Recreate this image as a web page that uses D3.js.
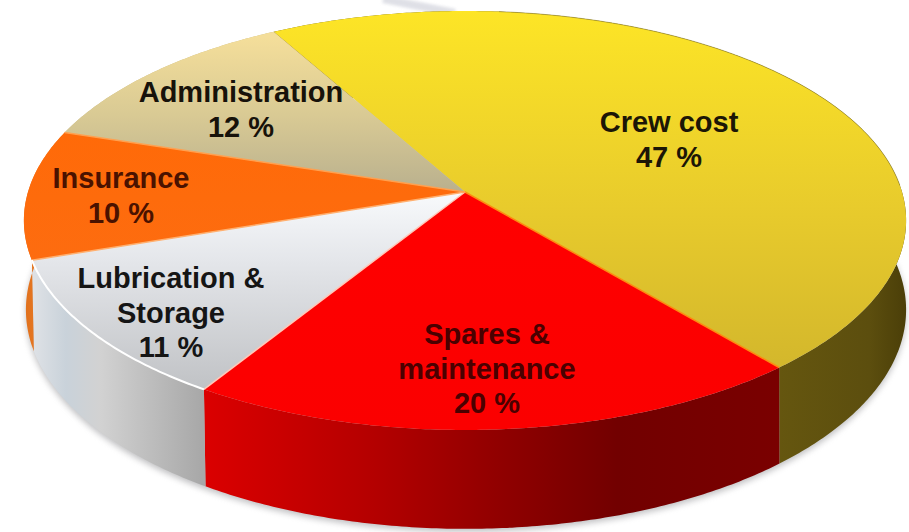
<!DOCTYPE html>
<html>
<head>
<meta charset="utf-8">
<script src="https://cdn.jsdelivr.net/npm/d3@7"></script>
<style>
  html, body { margin: 0; padding: 0; background: #fff; }
  svg { display: block; }
  text { font-family: "Liberation Sans", Arial, sans-serif; font-weight: 700; font-size: 29px; text-anchor: middle; }
</style>
</head>
<body>
<div id="chart"></div>
<script>
// Ship operating cost breakdown, drawn as a tilted 3D pie.
const categories = ["Crew cost", "Spares & maintenance", "Lubrication & Storage", "Insurance", "Administration"];
const shares = [47, 20, 11, 10, 12];
const labelLines = [
  ["Crew cost"],
  ["Spares &", "maintenance"],
  ["Lubrication &", "Storage"],
  ["Insurance"],
  ["Administration"]
];

// Layout and styling
const width = 909, height = 532;
const firstAngleDeg = -29.3;
const tilt = -0.136;              // perspective strength: the near edge looks larger
const topPlane  = { cx: 465, cy: 192, a: 437, b: 205.6 };
const basePlane = { cx: 466, cy: 280, a: 436, b: 215 };
const labelAnchors = [
  [669, 132], [487, 344], [171, 288], [121, 188], [241, 102]
];
const lineGap = 34.5;
const labelInk = ["#1c1606", "#4a0000", "#151515", "#4a1200", "#17120a"];

const topFills = [
  { dir: "v", from: 11, to: 369, stops: [[0, "#fde526"], [0.55, "#e8cb2c"], [1, "#d3b72c"]] },
  { dir: "v", from: 190, to: 430, stops: [[0, "#ff0000"], [1, "#fb0000"]] },
  { dir: "v", from: 192, to: 390, stops: [[0, "#f8fafc"], [0.35, "#e4e6ea"], [1, "#c0c2c5"]] },
  { dir: "v", from: 133, to: 262, stops: [[0, "#ff6a08"], [1, "#fd6c10"]] },
  { dir: "v", from: 37, to: 192, stops: [[0, "#f4de9a"], [0.5, "#d9ca94"], [1, "#b9b08e"]] }
];
const wallFills = [
  { dir: "h", from: 780, to: 908, stops: [[0, "#65560f"], [0.7, "#5c4e0e"], [1, "#4a3e08"]] },
  { dir: "h", from: 200, to: 780, stops: [[0, "#dc0000"], [0.3, "#b40000"], [0.5, "#930000"], [0.72, "#720000"], [1, "#7a0000"]] },
  { dir: "h", from: 32, to: 202, stops: [[0, "#dfe2e6"], [0.2, "#c9d2da"], [0.4, "#d2d2d2"], [1, "#a8a8a8"]] },
  { dir: "h", from: 25, to: 40, stops: [[0, "#e0701c"], [1, "#e87a24"]] },
  { dir: "h", from: 25, to: 40, stops: [[0, "#c8b880"], [1, "#c8b880"]] }
];

const svg = d3.select("#chart").append("svg").attr("width", width).attr("height", height);
const defs = svg.append("defs");

function addGradient(id, spec) {
  const g = defs.append("linearGradient").attr("id", id).attr("gradientUnits", "userSpaceOnUse");
  if (spec.dir === "v") g.attr("x1", 0).attr("x2", 0).attr("y1", spec.from).attr("y2", spec.to);
  else g.attr("y1", 0).attr("y2", 0).attr("x1", spec.from).attr("x2", spec.to);
  spec.stops.forEach(([o, c]) => g.append("stop").attr("offset", o).attr("stop-color", c));
}
topFills.forEach((s, i) => addGradient("top" + i, s));
wallFills.forEach((s, i) => addGradient("wall" + i, s));
defs.append("filter").attr("id", "soft").attr("x", "-10%").attr("y", "-10%").attr("width", "120%").attr("height", "120%")
  .append("feGaussianBlur").attr("stdDeviation", 3);
defs.append("filter").attr("id", "streak").attr("x", "-20%").attr("y", "-200%").attr("width", "140%").attr("height", "500%")
  .append("feGaussianBlur").attr("stdDeviation", 1.5);

// Angles come from the data; the first slice starts a little left of twelve o'clock.
const start = firstAngleDeg * Math.PI / 180;
const arcs = d3.pie().sort(null).value(d => d).startAngle(start).endAngle(start + 2 * Math.PI)(shares);

// Perspective projection of a point on the unit disc onto a horizontal plane of the pie.
function planeScales(p) {
  return {
    x: d3.scaleLinear().domain([-1, 1]).range([p.cx - p.a, p.cx + p.a]),
    y: d3.scaleLinear().domain([-1, 1]).range([p.cy - p.b, p.cy + p.b])
  };
}
const topScale = planeScales(topPlane), baseScale = planeScales(basePlane);
function project(angle, r, s) {
  const X = r * Math.sin(angle), Y = -r * Math.cos(angle), w = 1 + tilt * Y;
  return [s.x(X / w), s.y(Y / w)];
}
function rimAngles(a0, a1) {
  const n = Math.max(2, Math.ceil((a1 - a0) / 0.01));
  return d3.range(n + 1).map(i => a0 + (a1 - a0) * i / n);
}
const line = d3.line();

// Soft ground shadow and the faint grey streak behind the far rim
const basePts = rimAngles(0, 2 * Math.PI).map(t => project(t, 1, baseScale));
svg.append("path").attr("d", line(basePts) + "Z")
  .attr("transform", "translate(0,3)")
  .attr("fill", "#8c8c90").attr("opacity", 0.55).attr("filter", "url(#soft)");
svg.append("path").attr("d", "M383,-1 L455,13")
  .attr("fill", "none").attr("stroke", "#dcdde4").attr("stroke-width", 8).attr("opacity", 0.9).attr("filter", "url(#streak)");

// Side walls
svg.append("g").selectAll("path").data(arcs).join("path")
  .attr("d", d => {
    const t = rimAngles(d.startAngle, d.endAngle);
    return line(t.map(a => project(a, 1, topScale)).concat(t.slice().reverse().map(a => project(a, 1, baseScale)))) + "Z";
  })
  .attr("fill", (d, i) => `url(#wall${i})`);

// Top faces
const faces = svg.append("g");
faces.selectAll("path").data(arcs).join("path")
  .attr("d", d => line([project(0, 0, topScale)].concat(rimAngles(d.startAngle, d.endAngle).map(a => project(a, 1, topScale)))) + "Z")
  .attr("fill", (d, i) => `url(#top${i})`);

// Fine highlights along the seams and rims
function seam(angle, color, w) {
  svg.append("path").attr("d", line([project(0, 0, topScale), project(angle, 1, topScale)]))
    .attr("fill", "none").attr("stroke", color).attr("stroke-width", w);
}
seam(arcs[0].endAngle, "#ff8a10", 1.5);
seam(arcs[1].endAngle, "#ffc8b8", 1.5);
seam(arcs[3].startAngle, "#ffb070", 1.5);
seam(arcs[3].endAngle, "#ffa050", 1.5);
svg.append("path")
  .attr("d", line(rimAngles(arcs[2].startAngle, arcs[2].endAngle).map(a => project(a, 1, topScale))))
  .attr("fill", "none").attr("stroke", "#ffffff").attr("stroke-width", 2);
svg.append("path")
  .attr("d", line(rimAngles(arcs[0].startAngle + 0.6, arcs[0].startAngle + 2.05).map(a => project(a, 1, topScale))))
  .attr("fill", "none").attr("stroke", "#7d7026").attr("stroke-width", 1).attr("opacity", 0.5);

// Labels: category lines followed by the share
const labels = svg.append("g").selectAll("text").data(categories).join("text")
  .attr("fill", (d, i) => labelInk[i]);
labels.each(function (d, i) {
  const [x, y] = labelAnchors[i];
  const rows = labelLines[i].concat(`${shares[i]} %`);
  d3.select(this).selectAll("tspan").data(rows).join("tspan")
    .attr("x", x).attr("y", (r, k) => y + k * lineGap).text(r => r);
});
</script>
</body>
</html>
